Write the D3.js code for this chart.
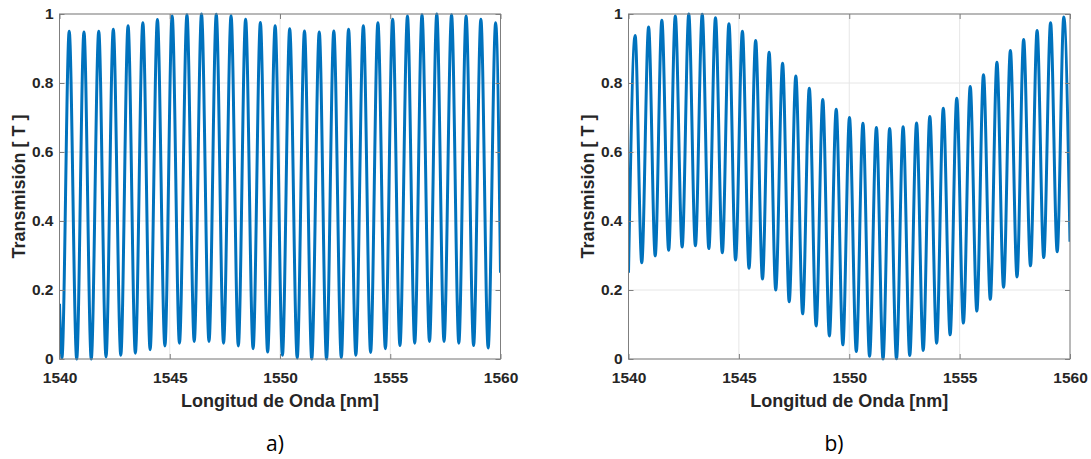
<!DOCTYPE html>
<html>
<head>
<meta charset="utf-8">
<script src="https://cdn.jsdelivr.net/npm/d3@7"></script>
<style>
  html, body { margin: 0; padding: 0; background: #fff; }
  svg { display: block; }
</style>
</head>
<body>
<svg id="chart" width="1091" height="459"></svg>
<script>
// ---------- Data ----------
const xTicks = [1540, 1545, 1550, 1555, 1560];
const yTicks = [0, 0.2, 0.4, 0.6, 0.8, 1];
const yTickLabels = ["0", "0.2", "0.4", "0.6", "0.8", "1"];

// Panel a: start / trough / peak wavelengths (nm) and transmissions
const startA = [1540.00, 0.16];
const troughLambdaA = [1540.11, 1540.78, 1541.44, 1542.11, 1542.78, 1543.44, 1544.11, 1544.78, 1545.44, 1546.11,
  1546.78, 1547.44, 1548.11, 1548.78, 1549.44, 1550.11, 1550.78, 1551.44, 1552.11, 1552.78,
  1553.44, 1554.11, 1554.78, 1555.44, 1556.11, 1556.78, 1557.44, 1558.11, 1558.78, 1559.44];
const troughA = [0.003, 0, 0, 0.006, 0.011, 0.017, 0.027, 0.038, 0.046, 0.051,
  0.051, 0.046, 0.038, 0.030, 0.020, 0.011, 0.003, 0, 0, 0.004,
  0.011, 0.019, 0.030, 0.039, 0.046, 0.051, 0.051, 0.046, 0.039, 0.032];
const peakLambdaA = [1540.44, 1541.11, 1541.78, 1542.44, 1543.11, 1543.78, 1544.44, 1545.11, 1545.78, 1546.44,
  1547.11, 1547.78, 1548.44, 1549.11, 1549.78, 1550.44, 1551.11, 1551.78, 1552.44, 1553.11,
  1553.78, 1554.44, 1555.11, 1555.78, 1556.44, 1557.11, 1557.78, 1558.44, 1559.11, 1559.78];
const peakA = [0.950, 0.948, 0.950, 0.956, 0.966, 0.975, 0.984, 0.994, 0.998, 1.0,
  0.999, 0.995, 0.985, 0.975, 0.966, 0.957, 0.951, 0.948, 0.951, 0.956,
  0.966, 0.975, 0.985, 0.994, 0.998, 1.0, 0.998, 0.994, 0.985, 0.975];
const endA = [1560.00, 0.25];

// Panel b
const startB = [1540.00, 0.25];
const troughLambdaB = [1540.60, 1541.21, 1541.82, 1542.43, 1543.03, 1543.64, 1544.25, 1544.85, 1545.46, 1546.07,
  1546.67, 1547.28, 1547.89, 1548.50, 1549.10, 1549.71, 1550.32, 1550.92, 1551.53, 1552.14,
  1552.74, 1553.35, 1553.96, 1554.57, 1555.17, 1555.78, 1556.39, 1556.99, 1557.60, 1558.21,
  1558.81, 1559.42];
const troughB = [0.279, 0.299, 0.315, 0.325, 0.328, 0.320, 0.308, 0.287, 0.263, 0.232,
  0.200, 0.166, 0.131, 0.096, 0.067, 0.041, 0.022, 0.008, 0.0, 0.001,
  0.010, 0.025, 0.046, 0.070, 0.104, 0.139, 0.173, 0.208, 0.238, 0.270,
  0.294, 0.311];
const peakLambdaB = [1540.30, 1540.91, 1541.51, 1542.12, 1542.73, 1543.34, 1543.94, 1544.55, 1545.16, 1545.76,
  1546.37, 1546.98, 1547.58, 1548.19, 1548.80, 1549.41, 1550.01, 1550.62, 1551.23, 1551.83,
  1552.44, 1553.05, 1553.65, 1554.26, 1554.87, 1555.48, 1556.08, 1556.69, 1557.30, 1557.90,
  1558.51, 1559.12, 1559.72];
const peakB = [0.938, 0.962, 0.982, 0.994, 1.0, 0.999, 0.989, 0.972, 0.950, 0.923,
  0.889, 0.857, 0.820, 0.785, 0.752, 0.724, 0.700, 0.683, 0.671, 0.668,
  0.673, 0.684, 0.703, 0.727, 0.756, 0.790, 0.824, 0.860, 0.894, 0.926,
  0.952, 0.975, 0.991];
const endB = [1560.00, 0.34];

const xLabel = "Longitud de Onda [nm]";
const yLabel = "Transmisión [ T ]";

// ---------- Build series ----------
function buildSeries(start, tl, tv, pl, pv, end) {
  const pts = [{x: start[0], y: start[1]}];
  tl.forEach((l, i) => pts.push({x: l, y: tv[i]}));
  pl.forEach((l, i) => pts.push({x: l, y: pv[i]}));
  pts.push({x: end[0], y: end[1]});
  pts.sort((a, b) => a.x - b.x);
  return pts;
}
const seriesA = buildSeries(startA, troughLambdaA, troughA, peakLambdaA, peakA, endA);
const seriesB = buildSeries(startB, troughLambdaB, troughB, peakLambdaB, peakB, endB);

// ---------- Draw ----------
const svg = d3.select("#chart");
const font = "'Liberation Sans', Arial, sans-serif";

function panel(left, right, top, bottom, data, tag, tagX) {
  const x = d3.scaleLinear().domain([1540, 1560]).range([left, right]);
  const y = d3.scaleLinear().domain([0, 1]).range([bottom, top]);
  const g = svg.append("g");

  // grid
  g.selectAll(".gx").data(xTicks).enter().append("line")
    .attr("x1", d => x(d)).attr("x2", d => x(d)).attr("y1", top).attr("y2", bottom)
    .attr("stroke", "#e6e6e6").attr("stroke-width", 1);
  g.selectAll(".gy").data(yTicks).enter().append("line")
    .attr("x1", left).attr("x2", right).attr("y1", d => y(d)).attr("y2", d => y(d))
    .attr("stroke", "#e6e6e6").attr("stroke-width", 1);

  // data line
  const line = d3.line().x(d => x(d.x)).y(d => y(d.y)).curve(d3.curveMonotoneX);
  const clipId = "clip" + tag.replace(")", "");
  svg.append("clipPath").attr("id", clipId).append("rect")
    .attr("x", left).attr("y", top - 3).attr("width", right - left).attr("height", bottom - top + 6);
  g.append("path").datum(data).attr("d", line)
    .attr("fill", "none").attr("stroke", "#0072BD").attr("stroke-width", 3)
    .attr("stroke-linejoin", "round").attr("clip-path", `url(#${clipId})`);

  // box
  g.append("rect").attr("x", left).attr("y", top).attr("width", right - left).attr("height", bottom - top)
    .attr("fill", "none").attr("stroke", "#7f7f7f").attr("stroke-width", 1);

  // axes (ticks inward)
  const axB = d3.axisBottom(x).tickValues(xTicks).tickSize(-5).tickPadding(13).tickFormat(d3.format("d"));
  const axL = d3.axisLeft(y).tickValues(yTicks).tickSize(-5).tickPadding(6)
    .tickFormat((d, i) => yTickLabels[i]);
  const axT = d3.axisTop(x).tickValues(xTicks).tickSize(-5).tickFormat("");
  const axR = d3.axisRight(y).tickValues(yTicks).tickSize(-5).tickFormat("");

  [[axB, `translate(0,${bottom})`], [axL, `translate(${left},0)`],
   [axT, `translate(0,${top})`], [axR, `translate(${right},0)`]].forEach(([ax, tr]) => {
    const a = g.append("g").attr("transform", tr).call(ax);
    a.select(".domain").remove();
    a.selectAll(".tick line").attr("stroke", "#7f7f7f");
    a.selectAll(".tick text").attr("fill", "#262626")
      .style("font-family", font).style("font-size", "15.5px").style("font-weight", "bold");
  });

  // labels
  g.append("text").attr("x", (left + right) / 2).attr("y", 407)
    .attr("text-anchor", "middle").attr("fill", "#262626")
    .style("font-family", font).style("font-size", "18px").style("font-weight", "bold")
    .text(xLabel);
  g.append("text").attr("transform", `translate(${left - 35},${(top + bottom) / 2}) rotate(-90)`)
    .attr("text-anchor", "middle").attr("fill", "#262626")
    .style("font-family", font).style("font-size", "18px").style("font-weight", "bold")
    .text(yLabel);
  g.append("text").attr("x", tagX).attr("y", 451)
    .attr("text-anchor", "middle").attr("fill", "#000")
    .style("font-family", "'Open Sans', 'Liberation Sans', sans-serif").style("font-size", "21px")
    .text(tag);
}

panel(59.5, 500.5, 14, 359, seriesA, "a)", 275);
panel(628.5, 1070, 14, 359, seriesB, "b)", 834);
</script>
</body>
</html>
